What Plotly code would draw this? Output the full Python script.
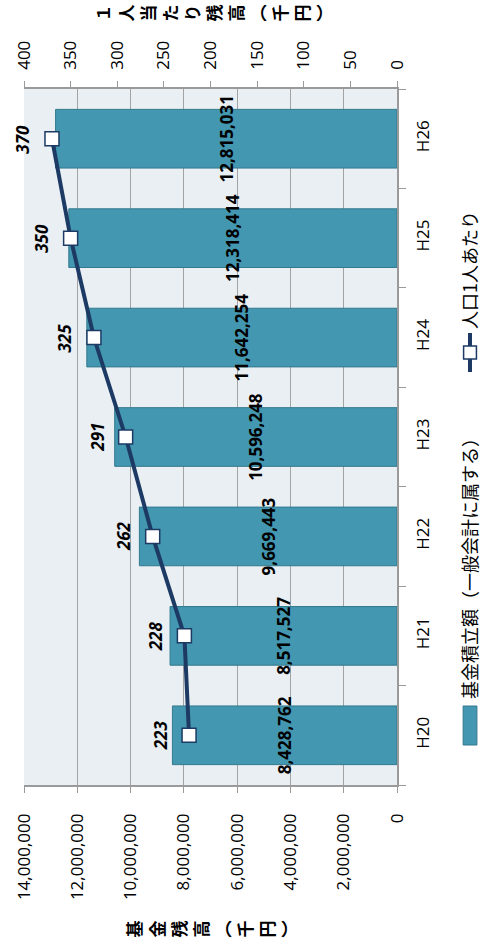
import plotly.graph_objects as go

# Fund balance (thousand yen) and balance per resident (thousand yen), FY H20-H26
years = ["H20", "H21", "H22", "H23", "H24", "H25", "H26"]
fund_balance = [8428762, 8517527, 9669443, 10596248, 11642254, 12318414, 12815031]
per_capita = [223, 228, 262, 291, 325, 350, 370]

primary_ticks = [0, 2000000, 4000000, 6000000, 8000000, 10000000, 12000000, 14000000]
secondary_ticks = [0, 50, 100, 150, 200, 250, 300, 350, 400]

BAR_NAME = "基金積立額（一般会計に属する）"
LINE_NAME = "人口1人あたり"
PRIMARY_TITLE = "基金残高︵千円︶"
SECONDARY_TITLE = "１人当たり残高︵千円︶"

W, H = 484, 949
L, R, T, B = 19, 397, 89, 785

BAR_COLOR = "#4397B0"
BAR_EDGE = "#33798E"
LINE_COLOR = "#1C3A64"
GRID = "#A3A3A3"
AXIS = "#9A9A9A"
NUM_FONT = "Open Sans, Noto Sans CJK JP, sans-serif"
JP_FONT = "Noto Sans CJK JP, sans-serif"


def px(x):
    return (x - L) / (R - L)


def py(y):
    return (B - y) / (B - T)


fig = go.Figure()

fig.add_trace(go.Bar(
    x=fund_balance, y=years, orientation="h", name=BAR_NAME,
    width=0.59,
    marker=dict(color=BAR_COLOR, line=dict(color=BAR_EDGE, width=1)),
    text=[f"<b>{v:,}</b>" for v in fund_balance],
    textposition="inside", insidetextanchor="middle", textangle=-90,
    constraintext="none", cliponaxis=False,
    textfont=dict(family=NUM_FONT, size=17, color="#000000"),
    showlegend=False,
))

fig.add_trace(go.Scatter(
    x=per_capita, y=years, xaxis="x2", yaxis="y", name=LINE_NAME,
    mode="lines+markers",
    line=dict(color=LINE_COLOR, width=4),
    marker=dict(symbol="square", size=14, color="white",
                line=dict(color=LINE_COLOR, width=1.5)),
    showlegend=False, cliponaxis=False,
))

annotations = []
# value labels for the per-capita line, set off to the left of each marker
for yr, v in zip(years, per_capita):
    annotations.append(dict(
        x=v, y=yr, xref="x2", yref="y", text=f"<b><i>{v}</i></b>",
        showarrow=False, textangle=-90, xshift=-29,
        font=dict(family=NUM_FONT, size=17, color="#000000"),
    ))

# axis titles, written as stacked characters turned with the chart
annotations.append(dict(
    x=px(209), y=py(929), xref="paper", yref="paper",
    text="<b>" + "<br>".join(PRIMARY_TITLE) + "</b>",
    showarrow=False, textangle=-90, xanchor="center", yanchor="middle",
    font=dict(family=JP_FONT, size=17, color="#000000"),
))
annotations.append(dict(
    x=px(211), y=py(13), xref="paper", yref="paper",
    text="<b>" + "<br>".join(SECONDARY_TITLE) + "</b>",
    showarrow=False, textangle=-90, xanchor="center", yanchor="middle",
    font=dict(family=JP_FONT, size=17, color="#000000"),
))

# legend entries
annotations.append(dict(
    x=px(470), y=py(701), xref="paper", yref="paper", text=BAR_NAME,
    showarrow=False, textangle=-90, xanchor="center", yanchor="bottom",
    font=dict(family=JP_FONT, size=18, color="#000000"),
))
annotations.append(dict(
    x=px(470), y=py(331), xref="paper", yref="paper", text=LINE_NAME,
    showarrow=False, textangle=-90, xanchor="center", yanchor="bottom",
    font=dict(family=JP_FONT, size=18, color="#000000"),
))

shapes = [
    dict(type="rect", xref="paper", yref="paper",
         x0=px(464), x1=px(478), y0=py(745), y1=py(706),
         fillcolor=BAR_COLOR, line=dict(color=BAR_EDGE, width=1)),
    dict(type="line", xref="paper", yref="paper",
         x0=px(471), x1=px(471), y0=py(372), y1=py(333),
         line=dict(color=LINE_COLOR, width=4)),
    dict(type="rect", xref="paper", yref="paper",
         x0=px(464.5), x1=px(477.5), y0=py(359), y1=py(346),
         fillcolor="white", line=dict(color=LINE_COLOR, width=1.5)),
]

fig.update_layout(
    width=W, height=H,
    margin=dict(l=L, r=W - R, t=T, b=H - B, pad=0),
    paper_bgcolor="white", plot_bgcolor="#E9EFF3",
    showlegend=False,
    bargap=0.41,
    annotations=annotations,
    shapes=shapes,
    xaxis=dict(
        range=[14000000, 0], tickvals=primary_ticks, tickformat=",",
        tickangle=-90, ticks="outside", ticklen=6, tickcolor=AXIS,
        showgrid=True, gridcolor=GRID, gridwidth=1, zeroline=False,
        showline=True, linecolor=AXIS, linewidth=1.5,
        tickfont=dict(family=NUM_FONT, size=17, color="#000000"),
        ticklabelstandoff=14,
    ),
    xaxis2=dict(
        overlaying="x", side="top", range=[400, 0], tickvals=secondary_ticks,
        tickangle=-90, ticks="outside", ticklen=6, tickcolor=AXIS,
        showgrid=False, zeroline=False,
        showline=True, linecolor=AXIS, linewidth=1.5,
        tickfont=dict(family=NUM_FONT, size=17, color="#000000"),
        ticklabelstandoff=8,
    ),
    yaxis=dict(
        type="category", categoryorder="array", categoryarray=years,
        range=[-0.5, 6.5], side="right",
        tickangle=-90, ticks="outside", ticklen=7, tickcolor=AXIS,
        tickson="boundaries", showgrid=False, zeroline=False,
        showline=True, linecolor=AXIS, linewidth=1.5,
        tickfont=dict(family=NUM_FONT, size=17, color="#000000"),
        ticklabelstandoff=10,
    ),
)

fig.write_html("out.html")
